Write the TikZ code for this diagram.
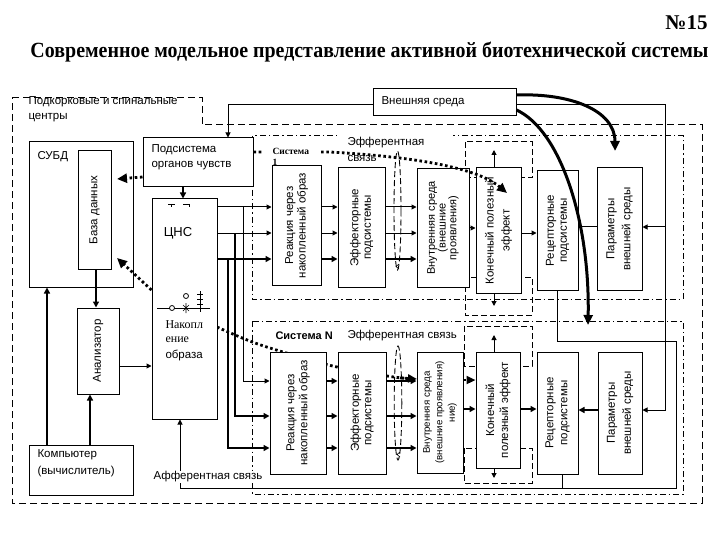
\documentclass[tikz,border=0pt]{standalone}
\usepackage{fontspec}
\usepackage{graphicx}
\setmainfont{Liberation Sans}
\newfontfamily\serifff{Liberation Serif}
\usetikzlibrary{arrows.meta,fit,calc}
\begin{document}
\begin{tikzpicture}[x=1pt,y=-1pt,line width=1pt,
  box/.style={draw,fill=white,line width=1pt,inner sep=0pt},
  lbl/.style={font=\fontsize{11.5}{12.5}\selectfont,inner sep=0pt},
  rlbl/.style={lbl,rotate=90,align=center},
  arr/.style={-{Triangle[length=5pt,width=5pt]}},
  tarr/.style={line width=2pt,-{Triangle[length=6pt,width=6pt]}},
  dotl/.style={line width=2.8pt,dash pattern=on 2.6pt off 2.6pt},
  bigtip/.style={-{Triangle[length=10pt,width=9pt]}},
  frame/.style={dash pattern=on 7pt off 4pt,line width=1pt},
  dashdot/.style={dash pattern=on 6pt off 3pt on 1.5pt off 3pt,line width=1pt},
  brk/.style={dash pattern=on 6pt off 3pt,line width=1pt},
  thickcurve/.style={line width=3pt,-{Triangle[length=10pt,width=9pt]}}]
\useasboundingbox (0,0) rectangle (720,540);

% titles
\node[anchor=east,inner sep=0pt] (num) at (708,23) {\serifff\bfseries\fontsize{21}{22}\selectfont №15};
\node[anchor=west,inner sep=0pt] (title) at (30,52) {\resizebox{678pt}{15.5pt}{\serifff\bfseries\fontsize{20}{22}\selectfont Современное модельное представление активной биотехнической системы}};

% outer dashed frame
\draw[frame] (12,98) -- (202,98) -- (202,125) -- (702,125) -- (702,503) -- (12,503) -- cycle;
\node[lbl,anchor=west,align=left,font=\fontsize{11.5}{15}\selectfont] (sub-t) at (28,109) {Подкорковые и спинальные\\центры};

% system frames
\draw[dashdot] (252,136) rectangle (683,299);
\draw[dashdot] (252,321) rectangle (683,494);

% dashed brackets around final-effect boxes
\draw[brk] (465,142) rectangle (532,178);
\draw[brk] (465,277) rectangle (532,315);
\draw[brk] (464,326) rectangle (532,366);
\draw[brk] (464,448) rectangle (532,483);

% label Эфферентная (upper) covers the frame line
\fill[white] (337,131) rectangle (453,149);
\node[lbl,anchor=west] (eff1) at (347,143) {Эфферентная};
\node[lbl,anchor=west] (eff1b) at (347,158) {связь};

% lower efferent dotted path (behind boxes)
\draw[dotl] plot[smooth,tension=0.6] coordinates {(217,327) (255,343) (300,357) (337,367) (387,376) (408,378.5)};
\draw[dotl,-{Triangle[length=9pt,width=8pt]}] (400,378) -- (417,379);

% nodes (boxes)
\node[box,fit={(373,89) (516,116)}] (ext) {};
\node[box,fit={(143,138) (253,187)}] (sub) {};
\node[box,fit={(29,142) (133,287)}] (subd) {};
\node[box,fit={(78,151) (111,269)}] (bd) {};
\node[box,fit={(77,308) (119,394)}] (an) {};
\node[box,fit={(29,445) (133,495)}] (comp) {};
\node[box,fit={(152,199) (217,419)}] (cns) {};

\node[box,fit={(272,166) (321,285)}] (R1) {};
\node[box,fit={(338,168) (385,287)}] (E1) {};
\node[box,fit={(417,169) (469,287)}] (V1) {};
\node[box,fit={(476,168) (521,293)}] (K1) {};
\node[box,fit={(537,171) (578,290)}] (Rc1) {};
\node[box,fit={(597,168) (642,290)}] (P1) {};

\node[box,fit={(270,352) (326,474)}] (R2) {};
\node[box,fit={(338,352) (386,474)}] (E2) {};
\node[box,fit={(417,352) (463,473)}] (V2) {};
\node[box,fit={(476,352) (520,468)}] (K2) {};
\node[box,fit={(537,352) (578,474)}] (Rc2) {};
\node[box,fit={(598,352) (642,474)}] (P2) {};

% texts
\node[lbl,anchor=west] (ext-t) at (381,102) {Внешняя среда};
\node[lbl,anchor=west,align=left,font=\fontsize{11.5}{15}\selectfont] (sub-t2) at (151,157.5) {Подсистема\\органов чувств};
\node[lbl,anchor=west] (subd-t) at (37,157) {СУБД};
\node[rlbl] (bd-t) at (bd.center) {База данных};
\node[rlbl] (an-t) at (an.center) {Анализатор};
\node[lbl,anchor=west,align=left,font=\fontsize{11.5}{17}\selectfont] (comp-t) at (37,463.5) {Компьютер\\(вычислитель)};
\node[lbl,font=\fontsize{13}{14}\selectfont] (cns-t) at (178,233) {ЦНС};
\node[lbl,anchor=west,font=\serifff\fontsize{12}{13}\selectfont] (nak1) at (165,325) {Накопл};
\node[lbl,anchor=west,font=\serifff\fontsize{12}{13}\selectfont] (nak2) at (165,340) {ение};
\node[lbl,anchor=west] (nak3) at (165,355) {образа};

\node[rlbl] (R1-t) at (R1.center) {Реакция через\\накопленный образ};
\node[rlbl] (E1-t) at (E1.center) {Эффекторные\\подсистемы};
\node[rlbl,font=\fontsize{11}{10.8}\selectfont] (V1-t) at (V1.center) {Внутренняя среда\\(внешние\\проявления)};
\node[rlbl,font=\fontsize{11.5}{16}\selectfont] (K1-t) at (K1.center) {Конечный полезный\\эффект};
\node[rlbl,font=\fontsize{11.5}{13}\selectfont] (Rc1-t) at (Rc1.center) {Рецепторные\\подсистемы};
\node[rlbl,font=\fontsize{11.5}{16}\selectfont] (P1-t) at (P1.center) {Параметры\\внешней среды};

\node[rlbl,font=\fontsize{11.5}{13}\selectfont] (R2-t) at (R2.center) {Реакция через\\накопленный образ};
\node[rlbl] (E2-t) at (E2.center) {Эффекторные\\подсистемы};
\node[rlbl,font=\fontsize{9.7}{12.5}\selectfont] (V2-t) at (V2.center) {Внутренняя среда\\(внешние проявления)\\ние)};
\node[rlbl,font=\fontsize{11.5}{14}\selectfont] (K2-t) at (K2.center) {Конечный\\полезный эффект};
\node[rlbl,font=\fontsize{11.5}{14}\selectfont] (Rc2-t) at (Rc2.center) {Рецепторные\\подсистемы};
\node[rlbl,font=\fontsize{11.5}{16}\selectfont] (P2-t) at (P2.center) {Параметры\\внешней среды};

\node[lbl,anchor=west,font=\bfseries\fontsize{11}{12}\selectfont] (sysN) at (275,336) {Система N};
\node[lbl,anchor=west] (effN) at (347,336) {Эфферентная связь};

% marks inside ЦНС
\draw[line width=0.6pt] (168,204)--(175,204) (171.5,204)--(171.5,207) (183,204)--(189,204) (189,204)--(189,207);
\draw[line width=0.8pt] (157,308) -- (210,308);
\draw[line width=0.8pt,fill=white] (172,308) circle (2.5);
\draw[line width=0.8pt] (186,296) circle (2.5);
\draw[line width=0.7pt] (183,305)--(189,311) (183,311)--(189,305) (186,303)--(186,313);
\draw[line width=0.6pt] (200,291)--(200,312) (197,294)--(203,294) (197,299)--(203,299) (197,304)--(203,304);

% dashed ovals with small marks
\draw[brk,line width=0.9pt] (397.5,210.5) ellipse (3.5 and 59.5);
\draw[brk,line width=0.9pt] (398,403) ellipse (3.8 and 57);
\draw[line width=0.6pt] (399,264)--(396,266.5)--(399,269);
\draw[line width=0.6pt] (400,452)--(397,454.5)--(400,457);

% left part connectors
\draw[tarr] (sub.south -| 183,0) -- (cns.north -| 183,0);
\draw[tarr] (bd.south -| 96,0) -- (an.north -| 96,0);
\draw[tarr] (comp.north -| 47,0) -- (subd.south -| 47,0);
\draw[tarr] (comp.north -| 90,0) -- (an.south -| 90,0);
\draw[arr] (an.east |- 0,366) -- (cns.west |- 0,366);
\coordinate (tipA) at (117,179);
\coordinate (tipB) at (117,258);
\draw[dotl,bigtip] (sub.west |- 0,177) -- (tipA);
\draw[dotl,bigtip] (cns.west |- 0,290) -- (tipB);

% external environment connectors
\draw[arr] (ext.west |- 0,105) -- (228,105) -- (sub.north -| 228,0);
\draw[arr] (ext.east |- 0,105) -- (665,105) -- (665,410) -- (P2.east |- 0,410);
\draw[arr] (665,227) -- (P1.east |- 0,227);

% ЦНС to reaction boxes
\draw[arr] (cns.east |- 0,207) -- (R1.west |- 0,207);
\draw[arr] (cns.east |- 0,233) -- (R1.west |- 0,233);
\draw[tarr] (cns.east |- 0,259) -- (R1.west |- 0,259);
\draw[arr] (243,207) -- (243,381) -- (R2.west |- 0,381);
\draw[tarr] (235,233) -- (235,416) -- (R2.west |- 0,416);
\draw[tarr] (228,259) -- (228,448) -- (R2.west |- 0,448);

% upper chain
\draw[arr] (R1.east |- 0,207) -- (E1.west |- 0,207);
\draw[arr] (R1.east |- 0,233) -- (E1.west |- 0,233);
\draw[tarr] (R1.east |- 0,259) -- (E1.west |- 0,259);
\draw[arr] (E1.east |- 0,207) -- (V1.west |- 0,207);
\draw[arr] (E1.east |- 0,233) -- (V1.west |- 0,233);
\draw[tarr] (E1.east |- 0,259) -- (V1.west |- 0,259);
\draw[arr] (V1.east |- 0,228) -- (K1.west |- 0,228);
\draw[arr] (K1.east |- 0,233) -- (Rc1.west |- 0,233);
\draw (P1.west |- 0,227) -- (Rc1.east |- 0,227);
\draw[arr] (K1.north -| 494,0) -- (494,150);
\draw[arr] (K1.south -| 494,0) -- (494,306);

% lower chain
\draw[tarr] (R2.east |- 0,381) -- (E2.west |- 0,381);
\draw[tarr] (R2.east |- 0,416) -- (E2.west |- 0,416);
\draw[tarr] (R2.east |- 0,448) -- (E2.west |- 0,448);
\draw[tarr] (E2.east |- 0,381) -- (V2.west |- 0,381);
\draw[tarr] (E2.east |- 0,416) -- (V2.west |- 0,416);
\draw[tarr] (E2.east |- 0,448) -- (V2.west |- 0,448);
\draw[dotl,-{Triangle[length=9pt,width=8pt]}] (V2.east |- 0,380) -- (K2.west |- 0,380);
\draw[tarr] (V2.east |- 0,409) -- (K2.west |- 0,409);
\draw[tarr] (K2.east |- 0,409) -- (Rc2.west |- 0,409);
\draw[tarr] (P2.west |- 0,410) -- (Rc2.east |- 0,410);
\draw[arr] (K2.north -| 494,0) -- (494,335);
\draw[arr] (K2.south -| 494,0) -- (494,478);

% afferent loop
\draw[arr] (Rc1.south -| 557,0) -- (557,341) -- (676,341) -- (676,488) -- (180,488) -- (cns.south -| 180,0);
\draw (Rc2.south -| 562,0) -- (562,488);
\node[lbl,anchor=west,fill=white,inner sep=1pt] (aff) at (152,477) {Афферентная связь};

% upper efferent dotted line
\draw[dotl,bigtip] (sub.east |- 0,152) -- (330,152) .. controls (380,155) and (470,162) .. (507,193);
\node[anchor=west,fill=white,inner xsep=10pt,inner ysep=1pt,font=\serifff\bfseries\fontsize{9.5}{10}\selectfont] (sys1) at (262,151) {Система};
\node[anchor=west,inner sep=0pt,font=\serifff\bfseries\fontsize{9.5}{10}\selectfont] (sys1b) at (272,162) {1};

% thick curves from external environment
\draw[thickcurve] (ext.east |- 0,95) .. controls (570,93) and (615,110) .. (615,151);
\draw[thickcurve] (ext.east |- 0,110) .. controls (560,130) and (590,220) .. (588,325);
\end{tikzpicture}
\end{document}
